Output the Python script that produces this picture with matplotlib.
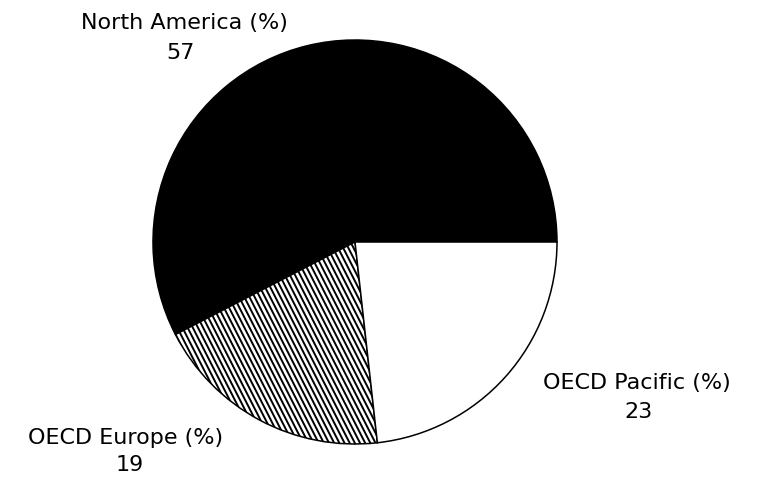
import numpy as np
import matplotlib
matplotlib.use("Agg")
import matplotlib.pyplot as plt
from matplotlib.collections import LineCollection

categories = ["North America", "OECD Europe", "OECD Pacific"]
values = [57, 19, 23]
colors = ["black", "white", "white"]

W, H = 757, 479
fig = plt.figure(figsize=(W / 100, H / 100), dpi=100)
fig.patch.set_facecolor("white")

cx, cy, r = 355, 242, 202  # pie centre and radius in pixels (layout)
ax = fig.add_axes([(cx - r) / W, (H - cy - r) / H, 2 * r / W, 2 * r / H])
wedges, _ = ax.pie(values, colors=colors, startangle=0, counterclock=True,
                   radius=1, wedgeprops=dict(edgecolor="black", linewidth=1.1))
ax.set_xlim(-1, 1)
ax.set_ylim(-1, 1)
ax.set_aspect("equal")
ax.axis("off")

# dense diagonal hatching for OECD Europe wedge (texture clipped to wedge)
ang = np.deg2rad(-63)
d = np.array([np.cos(ang), np.sin(ang)])
nrm = np.array([-d[1], d[0]])
spacing = 4.6 / r
segs = []
for off in np.arange(-1.5, 1.5, spacing):
    p0 = nrm * off - d * 1.6
    p1 = nrm * off + d * 1.6
    segs.append([p0, p1])
lc = LineCollection(segs, colors="black", linewidths=1.4)
ax.add_collection(lc)
lc.set_clip_path(wedges[1])

# labels (positions in pixels -> figure fraction)
label_pos = {
    "North America": ((184, 23), (180, 53)),
    "OECD Europe": ((126, 438), (130, 465)),
    "OECD Pacific": ((637, 383), (638, 412)),
}
fs = 16
for cat, val in zip(categories, values):
    (lx, ly), (vx, vy) = label_pos[cat]
    fig.text(lx / W, 1 - ly / H, f"{cat} (%)", ha="center", va="center",
             fontsize=fs, family="DejaVu Sans", color="black")
    fig.text(vx / W, 1 - vy / H, str(val), ha="center", va="center",
             fontsize=fs, family="DejaVu Sans", color="black")

fig.savefig("out.png", dpi=100, facecolor="white")
